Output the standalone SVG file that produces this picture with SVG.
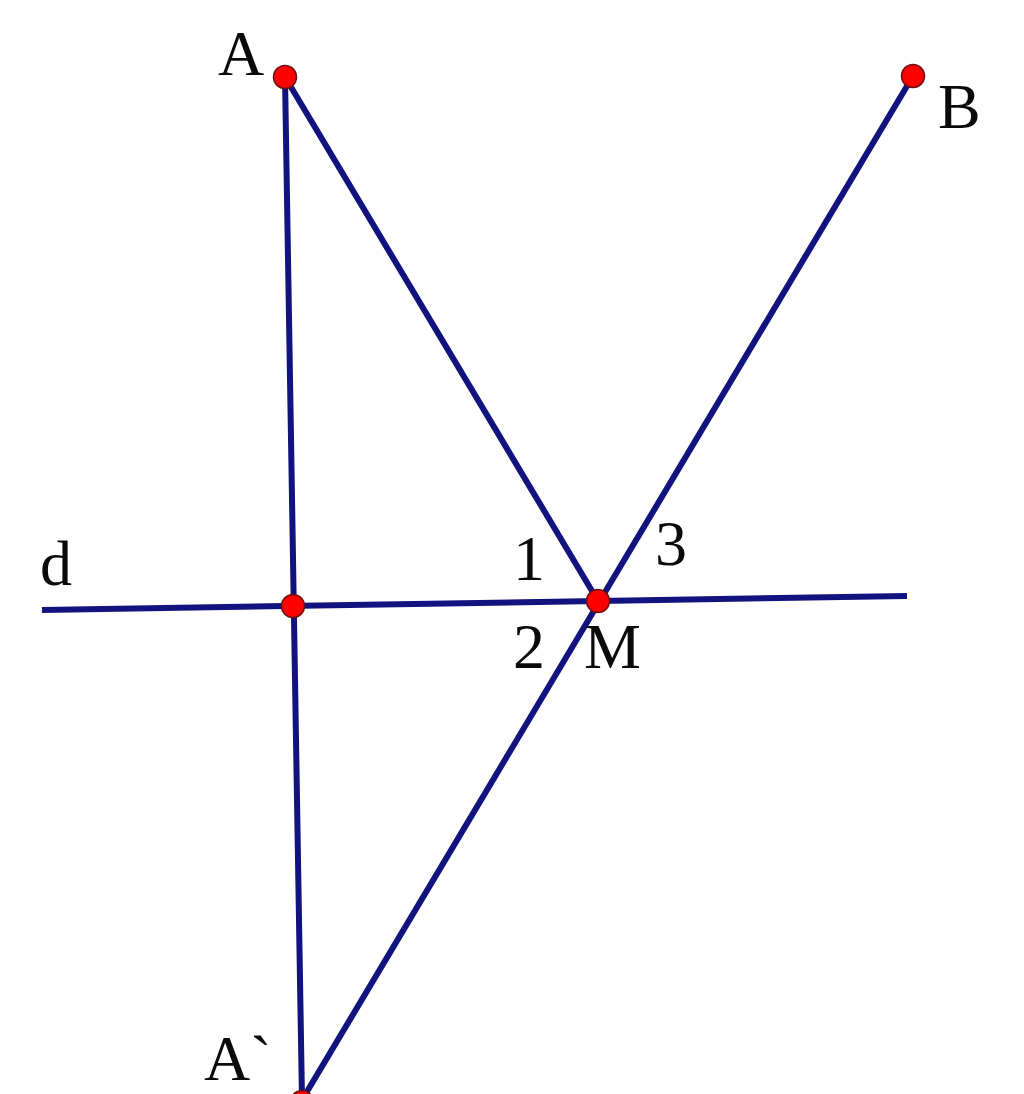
<svg xmlns="http://www.w3.org/2000/svg" width="1024" height="1094" viewBox="0 0 1024 1094">
<style>
.ln{stroke:#13137f;stroke-width:6;stroke-linecap:butt;fill:none}
.pt{fill:#ff0000;stroke:#6a1010;stroke-width:1.5}
.lb{font-family:"Liberation Serif","Times New Roman",serif;font-size:64px;fill:#0a0a0a}
</style>
<rect width="1024" height="1094" fill="#fff"/>
<g id="connectors">
<line class="ln" x1="42" y1="610" x2="907" y2="596"/>
<line class="ln" x1="285" y1="77" x2="302" y2="1100"/>
<line class="ln" x1="285" y1="77" x2="598" y2="601"/>
<line class="ln" x1="913" y1="76" x2="302" y2="1100"/>
</g>
<g id="A"><circle class="pt" cx="285" cy="77" r="11.5"/><text class="lb" x="218" y="75">A</text></g>
<g id="B"><circle class="pt" cx="913" cy="76" r="11.5"/><text class="lb" x="938" y="128">B</text></g>
<g id="H"><circle class="pt" cx="293" cy="606" r="11.5"/></g>
<g id="M"><circle class="pt" cx="598" cy="601" r="11.5"/><text class="lb" x="584" y="668">M</text></g>
<g id="A2"><circle class="pt" cx="302" cy="1102" r="11.5"/><text class="lb" x="204" y="1080">A`</text></g>
<g id="labels">
<text class="lb" x="40" y="585">d</text>
<text class="lb" x="513" y="580">1</text>
<text class="lb" x="655" y="565">3</text>
<text class="lb" x="513" y="668">2</text>
</g>
</svg>
